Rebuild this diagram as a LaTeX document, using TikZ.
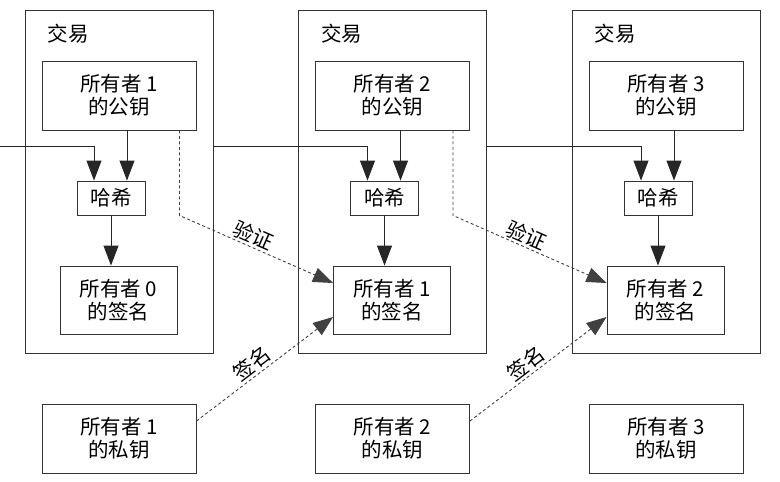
\documentclass[tikz,border=0pt]{standalone}
\usepackage{fontspec}
\setmainfont{Noto Sans CJK SC}
\usetikzlibrary{arrows.meta,positioning}

\tikzset{
  txt/.style={font=\fontsize{20.5}{23}\selectfont},
  box/.style={txt, draw=black!80, line width=0.9pt, align=center, inner sep=0pt},
  txbox/.style={draw=black!80, line width=0.9pt, minimum width=188pt, minimum height=343pt},
  keybox/.style={box, minimum width=154pt, minimum height=69pt},
  sigbox/.style={box, minimum width=117pt, minimum height=68pt},
  hashbox/.style={box, minimum width=68pt, minimum height=34pt},
  link/.style={draw=black!85, line width=0.9pt, -{Triangle[length=20pt,width=15pt]}},
  proof/.style={link, draw=black!75, dash pattern=on 3pt off 2.5pt},
  tag/.style={txt, sloped, above, inner sep=2pt}
}

\begin{document}
\begin{tikzpicture}[x=1pt, y=-1pt]
  \useasboundingbox (0,0) rectangle (780,482);

  % one transaction per column
  \foreach \i/\x/\n in {0/0/1, 1/273.5/2, 2/547/3} {
    \node [txbox] (tx\i) at (119+\x,181.5) {};
    \node [txt] (title\i) at (68+\x,33.5) {交易};
    \node [keybox] (pub\i) at (119+\x,95.5) {所有者 \n\\的公钥};
    \node [hashbox] (hash\i) at (111+\x,198) {哈希};
    \node [sigbox] (sig\i) at (118.5+\x,300) {所有者 \i\\的签名};
    \node [keybox] (priv\i) at (119+\x,438.5) {所有者 \n\\的私钥};
    \draw [link] ([xshift=8pt]pub\i.south) -- ([xshift=8pt]pub\i.south |- hash\i.north);
    \draw [link] (hash\i.south) -- (hash\i.south |- sig\i.north);
  }

  \coordinate (in) at (0,146);
  \draw [link] (in) -| ([xshift=-17pt]hash0.north);

  % chain to the next transaction
  \foreach \i/\j in {0/1, 1/2} {
    \draw [link] (tx\i.east |- in) -| ([xshift=-17pt]hash\j.north);
    \draw [proof] ([xshift=-17pt]pub\i.south east)
      -- ([xshift=-17pt]pub\i.south east |- hash\i.south)
      -- node [tag, pos=0.45] {验证} ([yshift=17pt]sig\j.west);
    \draw [proof] ([yshift=17.5pt]priv\i.east)
      -- node [tag, pos=0.46] {签名} ([yshift=-17pt]sig\j.west);
  }
\end{tikzpicture}
\end{document}
